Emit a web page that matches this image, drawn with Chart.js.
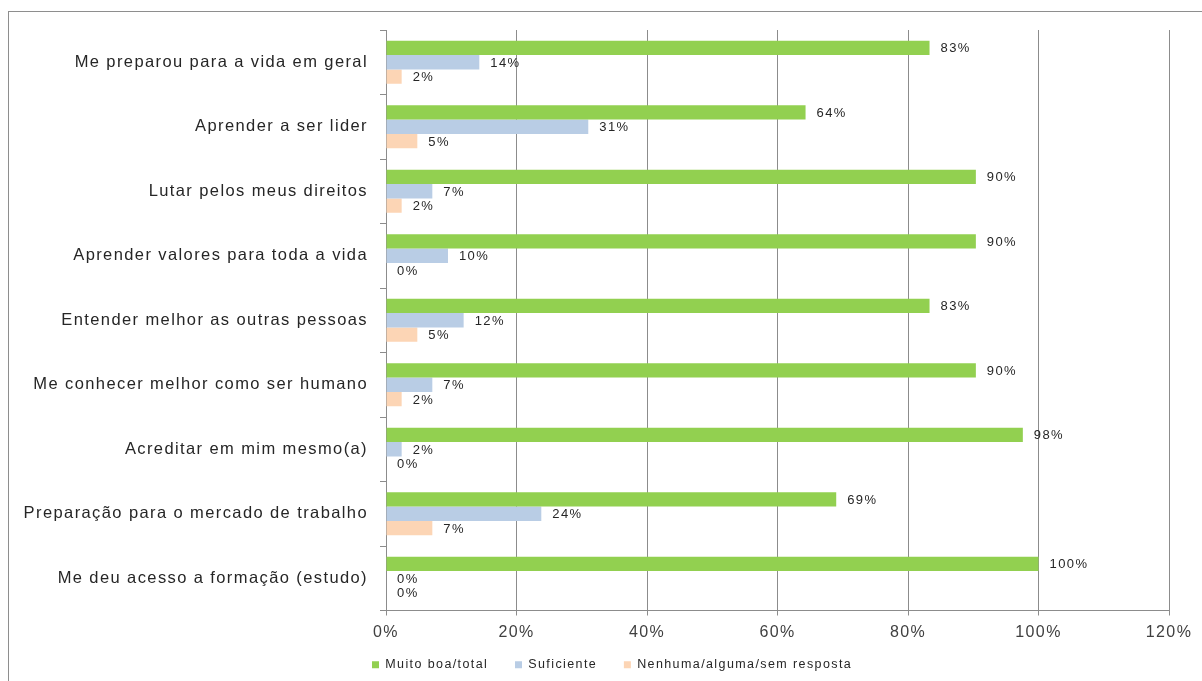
<!DOCTYPE html>
<html>
<head>
<meta charset="utf-8">
<script src="https://cdn.jsdelivr.net/npm/chart.js@4/dist/chart.umd.min.js"></script>
<style>
  html, body { margin: 0; padding: 0; background: #fff; }
  #wrap { width: 1202px; height: 681px; }
</style>
</head>
<body>
<div id="wrap"><canvas id="chart" width="1202" height="681"></canvas></div>
<script>
// Categories, top to bottom
const categories = [
    'Me preparou para a vida em geral',
    'Aprender a ser lider',
    'Lutar pelos meus direitos',
    'Aprender valores para toda a vida',
    'Entender melhor as outras pessoas',
    'Me conhecer melhor como ser humano',
    'Acreditar em mim mesmo(a)',
    'Preparação para o mercado de trabalho',
    'Me deu acesso a formação (estudo)'
];

// Series values in %
const muitoBoa = [83.3, 64.3, 90.4, 90.4, 83.3, 90.4, 97.6, 69.0, 100];
const suficiente = [14.3, 31.0, 7.1, 9.5, 11.9, 7.1, 2.4, 23.8, 0];
const nenhuma = [2.4, 4.8, 2.4, 0, 4.8, 2.4, 0, 7.1, 0];

const seriesNames = ['Muito boa/total', 'Suficiente', 'Nenhuma/alguma/sem resposta'];
const seriesColors = ['#92D050', '#B9CDE5', '#FCD5B5'];

const FONT = "'Liberation Sans', Arial, sans-serif";
const GRID = '#8c8c8c';

Chart.defaults.font.family = FONT;
Chart.defaults.color = '#333';

// letter spacing to match the wide text of the original, plus outer frame
const spacing = {
    id: 'spacing',
    beforeLayout(chart) { chart.ctx.letterSpacing = '1.4px'; },
    afterLayout(chart) {
        // legend starts under the axis labels, not at the canvas edge
        chart.legend.left = 355;
    },
    beforeDraw(chart) {
        const ctx = chart.ctx;
        ctx.letterSpacing = '1.4px';
        ctx.save();
        ctx.strokeStyle = '#8e8e8e';
        ctx.lineWidth = 1;
        ctx.strokeRect(8.5, 11.5, 1400, 1000);
        ctx.restore();
    }
};

// value labels at the end of each bar
const barLabels = {
    id: 'barLabels',
    afterDatasetsDraw(chart) {
        const ctx = chart.ctx;
        ctx.save();
        ctx.font = '13px ' + FONT;
        ctx.fillStyle = '#262626';
        ctx.textAlign = 'left';
        ctx.textBaseline = 'middle';
        chart.data.datasets.forEach((ds, i) => {
            chart.getDatasetMeta(i).data.forEach((bar, j) => {
                ctx.fillText(Math.round(ds.data[j]) + '%', bar.x + 11, bar.y + 1);
            });
        });
        ctx.restore();
    }
};

const ctx = document.getElementById('chart').getContext('2d');
new Chart(ctx, {
    type: 'bar',
    data: {
        labels: categories,
        datasets: [muitoBoa, suficiente, nenhuma].map((d, i) => ({
            label: seriesNames[i],
            data: d,
            backgroundColor: seriesColors[i],
            borderWidth: 0,
            categoryPercentage: 0.67,
            barPercentage: 1.0
        }))
    },
    options: {
        indexAxis: 'y',
        responsive: false,
        animation: false,
        devicePixelRatio: 1,
        layout: {
            padding: { top: 30, left: 0, right: 33, bottom: 0 }
        },
        plugins: {
            legend: {
                position: 'bottom',
                align: 'start',
                labels: {
                    boxWidth: 7,
                    boxHeight: 7,
                    padding: 17,
                    color: '#262626',
                    font: { size: 12.5 },
                    // trailing spaces widen the gap between entries
                    generateLabels: chart => Chart.defaults.plugins.legend.labels.generateLabels(chart)
                        .map(item => Object.assign(item, { text: item.text + '  ' }))
                }
            },
            tooltip: { enabled: false }
        },
        scales: {
            x: {
                min: 0,
                max: 120,
                ticks: {
                    stepSize: 20,
                    padding: 7,
                    color: '#404040',
                    font: { size: 16 },
                    callback: v => v + '%'
                },
                grid: {
                    color: GRID,
                    tickLength: 5
                },
                border: { color: GRID },
                afterFit: scale => { scale.height = 31; }
            },
            y: {
                ticks: {
                    padding: 12,
                    color: '#262626',
                    font: { size: 16.5 },
                    autoSkip: false
                },
                grid: {
                    drawOnChartArea: false,
                    color: GRID,
                    tickLength: 6
                },
                border: { color: GRID },
                afterFit: scale => { scale.width = 386; }
            }
        }
    },
    plugins: [spacing, barLabels]
});
</script>
</body>
</html>
